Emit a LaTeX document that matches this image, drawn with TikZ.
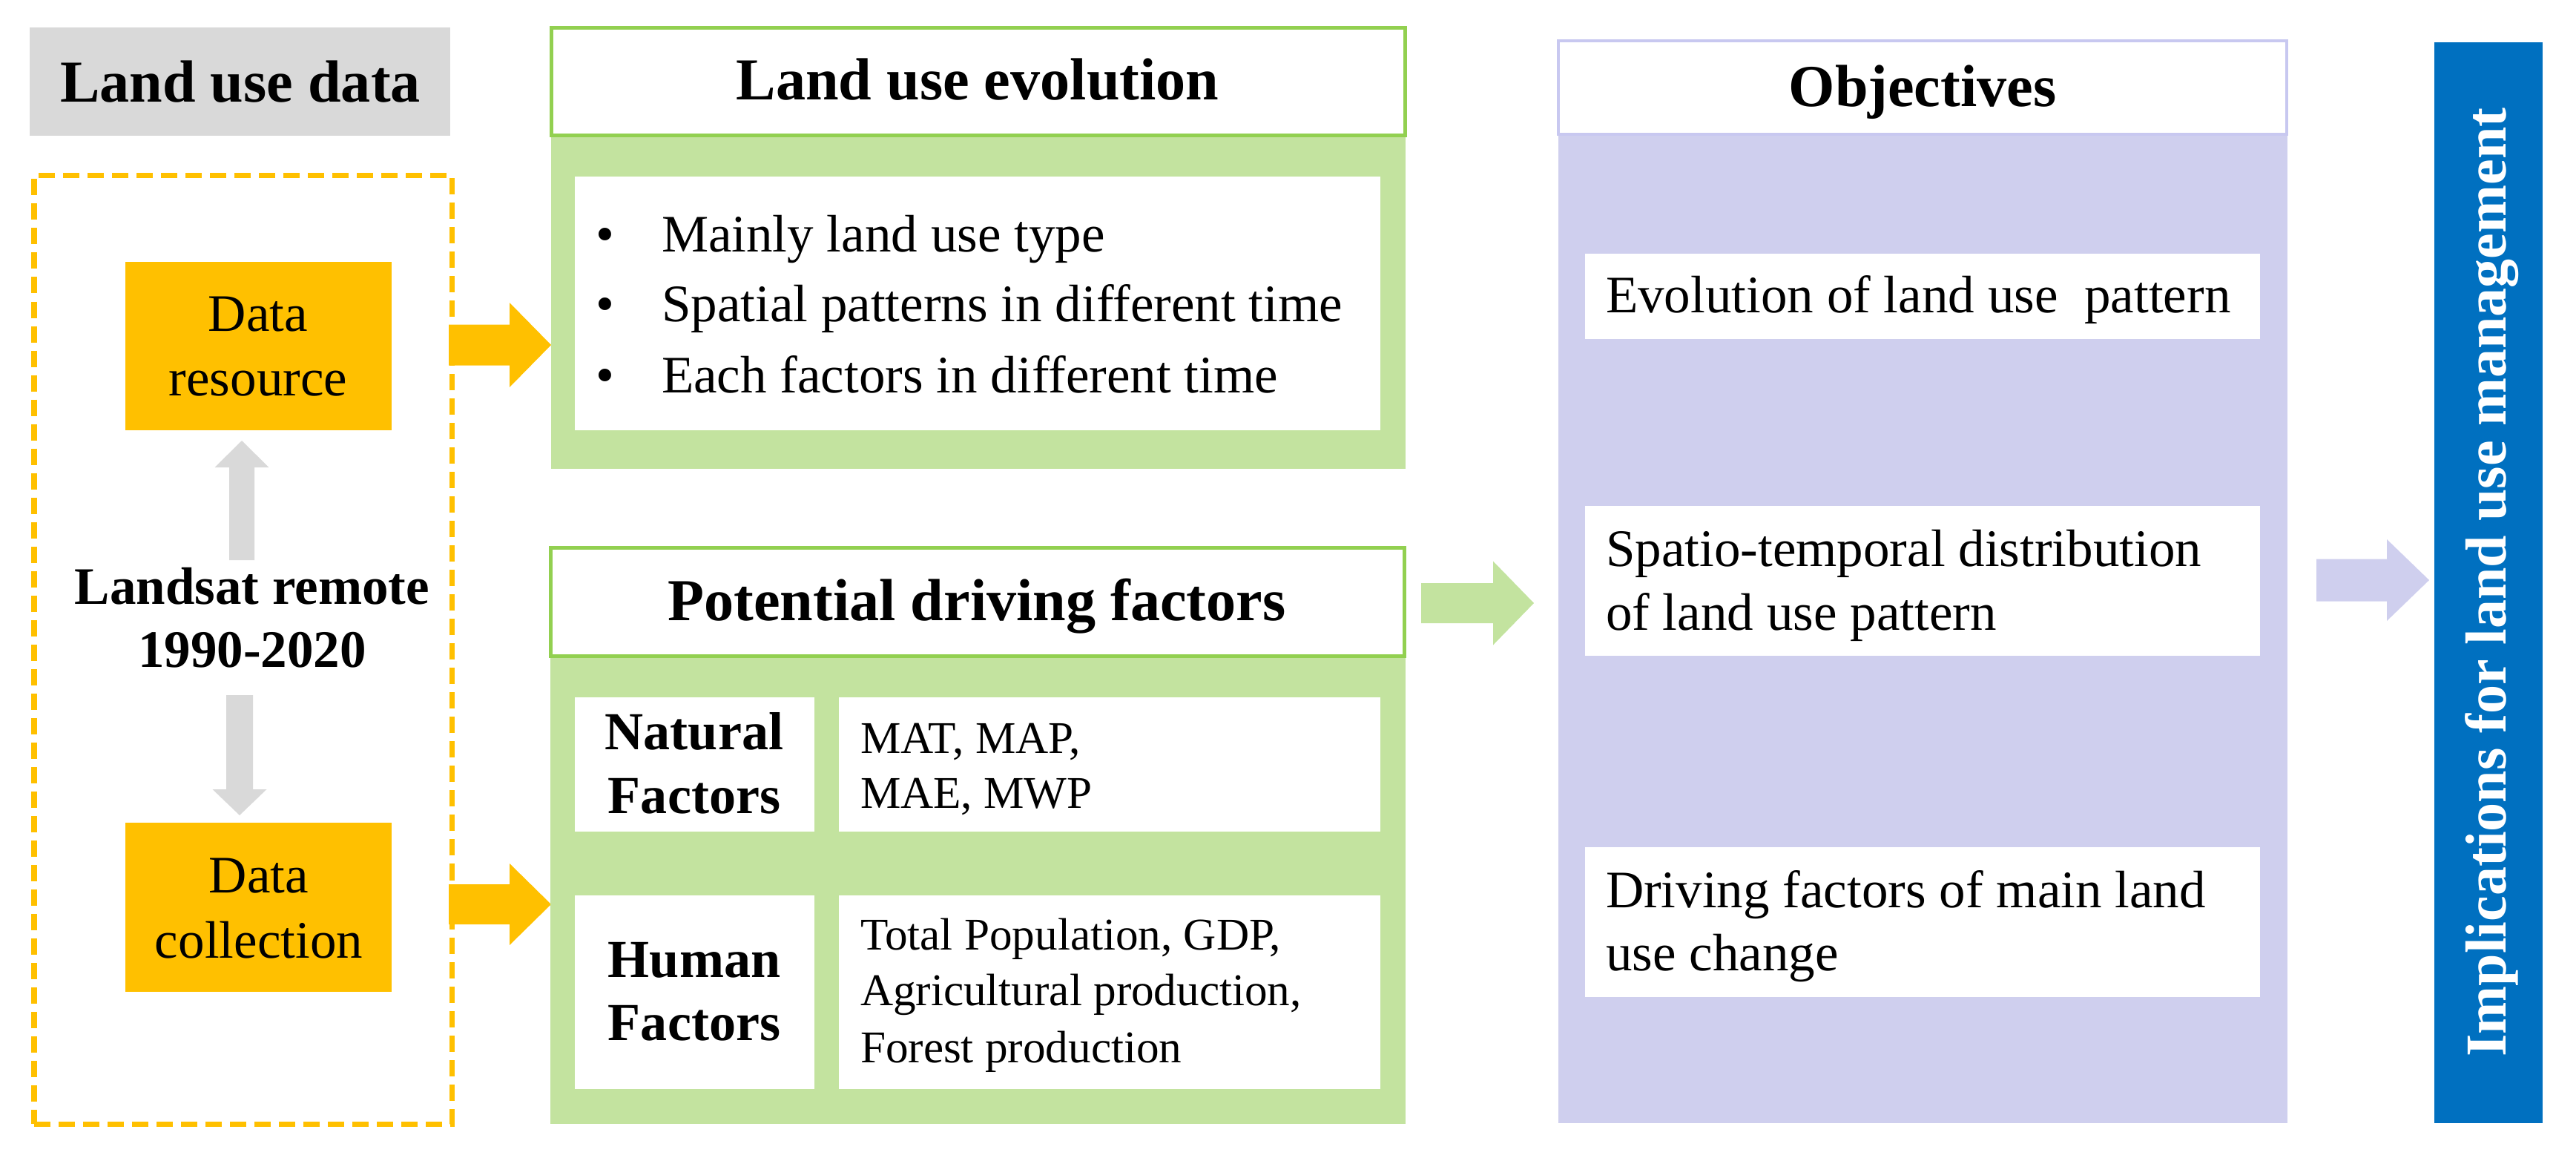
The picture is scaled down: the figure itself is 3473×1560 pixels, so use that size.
\documentclass[tikz,border=0pt]{standalone}
\usepackage{fontspec}
\setmainfont{Liberation Serif}
\definecolor{cgray}{HTML}{D9D9D9}
\definecolor{corange}{HTML}{FFC000}
\definecolor{cgreenline}{HTML}{92D050}
\definecolor{cgreen}{HTML}{C3E39F}
\definecolor{clav}{HTML}{CFCFEE}
\definecolor{clavline}{HTML}{C8C8F0}
\definecolor{cblue}{HTML}{0070C0}
\newcommand\fhead{\fontsize{22.8pt}{27pt}\selectfont\bfseries}
\newcommand\freg{\fontsize{20.2pt}{24pt}\selectfont}
\newcommand\ffac{\fontsize{17.4pt}{21pt}\selectfont}
\newcommand\fside{\fontsize{20.5pt}{24pt}\selectfont\bfseries}
\newcommand\flandsat{\fontsize{20.2pt}{24pt}\selectfont\bfseries}
\newcommand\fimpl{\fontsize{22.2pt}{26pt}\selectfont\bfseries}
\newcommand\boxat[6]{\node[#1, anchor=north west, minimum width={(#5-#3)*0.01cm}, minimum height={(#6-#4)*0.01cm}] (#2) at (#3,#4) {};}
\newcommand\blockR[7]{\fill[#1] (#2,#5-#6) -- (#3,#5-#6) -- (#3,#5-#7) -- (#4,#5) -- (#3,#5+#7) -- (#3,#5+#6) -- (#2,#5+#6) -- cycle;}
\newcommand\blockU[7]{\fill[#1] (#2-#6,#3) -- (#2-#6,#4) -- (#2-#7,#4) -- (#2,#5) -- (#2+#7,#4) -- (#2+#6,#4) -- (#2+#6,#3) -- cycle;}
\begin{document}
\begin{tikzpicture}[x=0.01cm,y=-0.01cm,
  base/.style={inner sep=0pt, outer sep=0pt, rectangle},
  graybox/.style={base, fill=cgray},
  dashbox/.style={base, draw=corange, line width=0.07cm, dash pattern=on 0.22cm off 0.11cm},
  orangebox/.style={base, fill=corange},
  greenhead/.style={base, fill=white, draw=cgreenline, line width=0.05cm},
  greenbody/.style={base, fill=cgreen},
  whitebox/.style={base, fill=white},
  lavhead/.style={base, fill=white, draw=clavline, line width=0.035cm},
  lavbody/.style={base, fill=clav},
  bluebar/.style={base, fill=cblue},
  txt/.style={inner sep=0pt, outer sep=0pt, anchor=base},
  txtl/.style={inner sep=0pt, outer sep=0pt, anchor=base west}]
\useasboundingbox (0,0) rectangle (3473,1560);

% left column
\boxat{graybox}{ludbox}{40}{37}{607}{183}
\node[txt] (ludtxt) at (324,137) {\fhead Land use data};
\boxat{dashbox}{dbox}{46}{236}{609}{1515}
\boxat{orangebox}{dres}{169}{353}{528}{580}
\node[txt] (dres1) at (348,446) {\freg Data};
\node[txt] (dres2) at (348,533) {\freg resource};
\boxat{orangebox}{dcol}{169}{1109}{528}{1337}
\node[txt] (dcol1) at (349,1203) {\freg Data};
\node[txt] (dcol2) at (349,1291) {\freg collection};
\node[txt] (ls1) at (340,814) {\flandsat Landsat remote};
\node[txt] (ls2) at (340,899) {\flandsat 1990-2020};
\blockU{cgray}{326}{755}{630}{594}{17}{36.5}
\blockU{cgray}{323}{937}{1064}{1099}{18}{36.5}

% orange arrows
\blockR{corange}{605}{687}{743}{465}{27.5}{57}
\blockR{corange}{605}{687}{743}{1219}{27}{55}

% land use evolution
\boxat{greenbody}{evobody}{743}{182}{1895}{632}
\boxat{greenhead}{evohead}{743}{37}{1894}{182}
\node[txt] (evotxt) at (1318,134) {\fhead Land use evolution};
\boxat{whitebox}{evoin}{775}{238}{1861}{580}
\node[txt] (b1) at (816,339) {\freg •};
\node[txtl] (e1) at (892,339) {\freg Mainly land use type};
\node[txt] (b2) at (816,433) {\freg •};
\node[txtl] (e2) at (892,433) {\freg Spatial patterns in different time};
\node[txt] (b3) at (816,529) {\freg •};
\node[txtl] (e3) at (892,529) {\freg Each factors in different time};

% potential driving factors
\boxat{greenbody}{pdfbody}{742}{884}{1895}{1515}
\boxat{greenhead}{pdfhead}{742}{738}{1893}{884}
\node[txt] (pdftxt) at (1317,836) {\fhead Potential driving factors};
\boxat{whitebox}{natlab}{775}{940}{1098}{1121}
\boxat{whitebox}{natcon}{1131}{940}{1861}{1121}
\boxat{whitebox}{humlab}{775}{1207}{1098}{1468}
\boxat{whitebox}{humcon}{1131}{1207}{1861}{1468}
\node[txt] (nat1) at (936,1010) {\fside Natural};
\node[txt] (nat2) at (936,1096) {\fside Factors};
\node[txtl] (natc1) at (1160,1015) {\ffac MAT, MAP,};
\node[txtl] (natc2) at (1160,1089) {\ffac MAE, MWP};
\node[txt] (hum1) at (936,1317) {\fside Human};
\node[txt] (hum2) at (936,1402) {\fside Factors};
\node[txtl] (humc1) at (1160,1280) {\ffac Total Population, GDP,};
\node[txtl] (humc2) at (1160,1355) {\ffac Agricultural production,};
\node[txtl] (humc3) at (1160,1432) {\ffac Forest production};

% green arrow
\blockR{cgreen}{1916}{2013}{2068}{813}{27}{56.5}

% objectives
\boxat{lavbody}{objbody}{2101}{181}{3084}{1514}
\boxat{lavhead}{objhead}{2101}{55}{3083}{181}
\node[txt] (objtxt) at (2592,143) {\fhead Objectives};
\boxat{whitebox}{o1}{2137}{342}{3047}{457}
\boxat{whitebox}{o2}{2137}{682}{3047}{884}
\boxat{whitebox}{o3}{2137}{1142}{3047}{1344}
\node[txtl] (o1t) at (2165,421) {\freg Evolution of land use \ pattern};
\node[txtl] (o2t1) at (2165,763) {\freg Spatio-temporal distribution};
\node[txtl] (o2t2) at (2165,849) {\freg of land use pattern};
\node[txtl] (o3t1) at (2165,1223) {\freg Driving factors of main land};
\node[txtl] (o3t2) at (2165,1308) {\freg use change};

% lavender arrow
\blockR{clav}{3123}{3218}{3275}{782}{28.5}{55}

% implications bar
\boxat{bluebar}{impl}{3282}{57}{3428}{1514}
\node[txt, rotate=90, text=white] (impltxt) at (3378,785) {\fimpl Implications for land use management};
\end{tikzpicture}
\end{document}
